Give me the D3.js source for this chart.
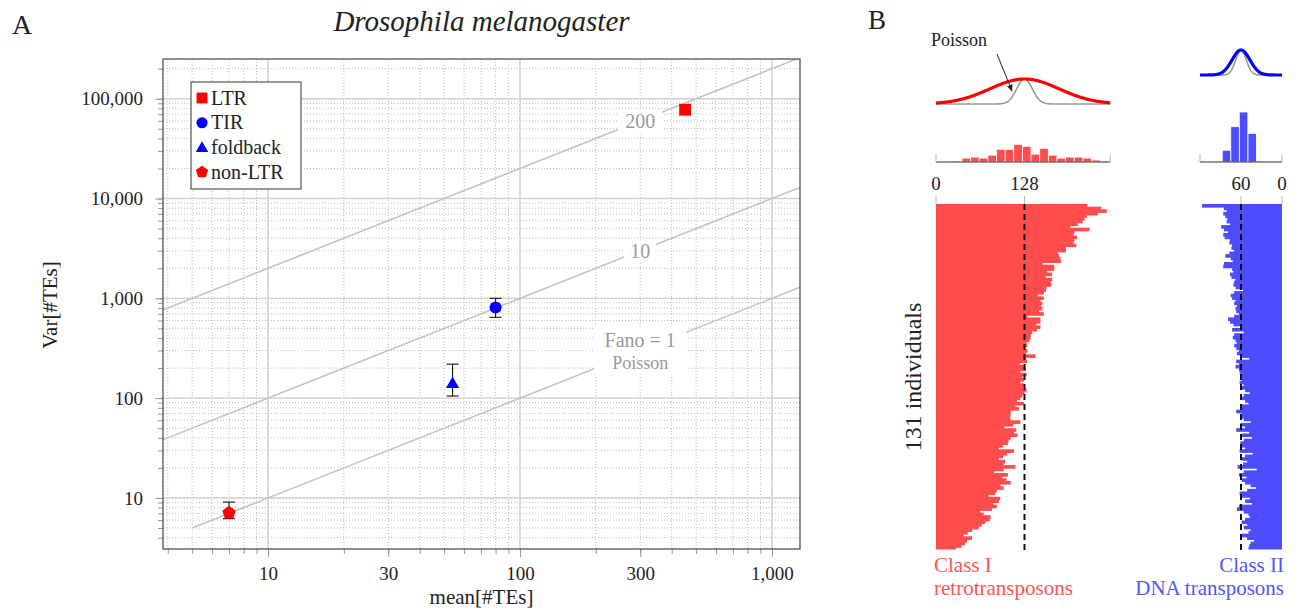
<!DOCTYPE html>
<html>
<head>
<meta charset="utf-8">
<script src="https://cdnjs.cloudflare.com/ajax/libs/d3/7.8.5/d3.min.js"></script>
<style>
  body { margin: 0; background: #fff; }
  svg text { font-family: "Liberation Serif", "DejaVu Serif", serif; }
  .grid-minor { stroke: #aaa; stroke-width: 0.8; stroke-dasharray: 1,2; }
  .grid-major { stroke: #d2d2d2; stroke-width: 1.4; }
</style>
</head>
<body>
<script>
// ---------- panel A data ----------
var teClasses = ["LTR", "TIR", "foldback", "non-LTR"];
var teMeans = [452, 80, 54, 7.0];
var teVars = [77600, 810, 138, 7.1];
var teVarLow = [null, 645, 105, 6.2];
var teVarHigh = [null, 1000, 219, 9.1];
var fanoLevels = [1, 10, 200];
var fanoStartMean = [5, 3, 3];
var xTickValues = [10, 30, 100, 300, 1000];
var yTickValues = [10, 100, 1000, 10000, 100000];

// ---------- panel B data ----------
var classIMean = 128;
var classIIMean = 60;
var classISd = 50;
var classIISd = 13;
var classICounts = [
  219, 239, 247, 234, 218, 215, 212, 205, 194, 222,
  200, 199, 204, 200, 199, 203, 188, 188, 176, 178,
  180, 181, 154, 171, 171, 161, 168, 159, 168, 166,
  167, 160, 159, 156, 147, 156, 151, 154, 152, 154,
  149, 156, 132, 151, 151, 145, 151, 146, 139, 137,
  137, 135, 131, 132, 127, 132, 130, 144, 130, 132,
  121, 127, 130, 122, 131, 125, 127, 122, 127, 126,
  131, 128, 125, 122, 117, 127, 115, 120, 108, 108,
  107, 108, 122, 112, 99, 116, 113, 118, 108, 105,
  104, 97, 91, 113, 103, 97, 91, 100, 98, 115,
  98, 84, 104, 96, 102, 108, 93, 98, 88, 86,
  76, 93, 91, 83, 88, 81, 64, 69, 79, 78,
  71, 66, 62, 52, 46, 40, 52, 45, 42, 37,
  29
];
var classIICounts = [
  117, 85, 81, 86, 83, 80, 81, 76, 89, 85,
  79, 86, 84, 76, 77, 73, 74, 70, 77, 83,
  75, 72, 85, 86, 73, 71, 76, 74, 68, 70,
  71, 68, 57, 70, 75, 73, 68, 70, 66, 68,
  67, 63, 70, 79, 76, 71, 61, 73, 56, 70,
  72, 68, 66, 70, 67, 63, 66, 61, 48, 67,
  63, 68, 63, 62, 59, 61, 59, 62, 56, 59,
  54, 47, 56, 59, 54, 49, 59, 61, 67, 59,
  61, 56, 46, 61, 54, 67, 48, 59, 44, 56,
  61, 59, 54, 62, 43, 54, 59, 51, 57, 65,
  37, 56, 63, 52, 59, 54, 46, 38, 51, 62,
  59, 47, 54, 44, 63, 66, 56, 49, 47, 54,
  59, 51, 56, 46, 49, 59, 51, 41, 46, 48,
  49
];
var histBinStart = 25;
var histBinWidth = 12.5;
var classIHist = [1, 4, 5, 4, 7, 13, 13, 18, 16, 8, 14, 7, 4, 5, 5, 4, 2, 1];
var classIIHist = [1, 29, 51, 36, 12, 1, 0, 1];

var red = "#ff0000", blue = "#0000ff";
var barRed = "#ff4d4d", barBlue = "#4d4dff";
var ink = "#222", lineGray = "#999";

var svg = d3.select("body")
  .append("svg")
  .attr("width", 1300)
  .attr("height", 611);

var defs = svg.append("defs");

// small helper so text colours are not lost
function addText(parent, str, size, color) {
  return parent.append("text").text(str)
    .style("font-size", size + "px")
    .style("fill", color || ink);
}

// =====================  PANEL A  =====================
var margin = { top: 59, left: 163 };
var width = 637;
var height = 490;

var chartGroup = svg.append("g")
  .attr("transform", `translate(${margin.left}, ${margin.top})`);

var x = d3.scaleLog().domain([3.83, 1292]).range([0, width]);
var y = d3.scaleLog().domain([3.08, 250000]).range([height, 0]);

function isDecade(v) {
  var l = Math.log10(v);
  return Math.abs(l - Math.round(l)) < 1e-9;
}

defs.append("clipPath").attr("id", "clipA")
  .append("rect").attr("width", width).attr("height", height);

// grid lines
var grid = chartGroup.append("g");
grid.selectAll(".gx").data(x.ticks()).enter().append("line")
  .attr("class", "grid-minor")
  .attr("x1", d => x(d)).attr("x2", d => x(d))
  .attr("y1", 0).attr("y2", height);
grid.selectAll(".gy").data(y.ticks()).enter().append("line")
  .attr("class", "grid-minor")
  .attr("y1", d => y(d)).attr("y2", d => y(d))
  .attr("x1", 0).attr("x2", width);
grid.selectAll(".gxm").data(x.ticks().filter(isDecade)).enter().append("line")
  .attr("class", "grid-major")
  .attr("x1", d => x(d)).attr("x2", d => x(d))
  .attr("y1", 0).attr("y2", height);
grid.selectAll(".gym").data(y.ticks().filter(isDecade)).enter().append("line")
  .attr("class", "grid-major")
  .attr("y1", d => y(d)).attr("y2", d => y(d))
  .attr("x1", 0).attr("x2", width);

// axes (minor ticks, then labelled ticks)
function styleAxis(g) {
  g.select(".domain").remove();
  g.selectAll("line").attr("stroke", lineGray);
  g.selectAll("text").style("font-size", "19px").style("fill", ink);
}
chartGroup.append("g")
  .attr("transform", `translate(0, ${height})`)
  .call(d3.axisBottom(x).tickValues(x.ticks()).tickSize(5).tickFormat(""))
  .call(styleAxis);
chartGroup.append("g")
  .attr("transform", `translate(0, ${height})`)
  .call(d3.axisBottom(x).tickValues(xTickValues).tickSize(8).tickPadding(10).tickFormat(d3.format(",")))
  .call(styleAxis);
chartGroup.append("g")
  .call(d3.axisLeft(y).tickValues(y.ticks()).tickSize(5).tickFormat(""))
  .call(styleAxis);
chartGroup.append("g")
  .call(d3.axisLeft(y).tickValues(yTickValues).tickSize(8).tickPadding(12).tickFormat(d3.format(",")))
  .call(styleAxis);

// Fano factor lines
var fanoLine = d3.line().x(d => x(d[0])).y(d => y(d[1]));
chartGroup.append("g")
  .attr("clip-path", "url(#clipA)")
  .selectAll("path")
  .data(fanoLevels)
  .enter()
  .append("path")
  .attr("d", (f, i) => fanoLine([[fanoStartMean[i], f * fanoStartMean[i]], [1292, f * 1292]]))
  .attr("fill", "none")
  .attr("stroke", "#c4c4c4")
  .attr("stroke-width", 1.6);

// labels on the lines (white boxes hide the line behind)
var labelMean = 300;
var labelGray = "#9a9a9a";
var lab200 = chartGroup.append("g")
  .attr("transform", `translate(${x(labelMean)}, ${y(200 * labelMean)})`);
lab200.append("rect").attr("x", -22).attr("y", -11).attr("width", 44).attr("height", 22).attr("fill", "#fff");
addText(lab200, "200", 20, labelGray).attr("text-anchor", "middle").attr("dy", "0.35em");

var lab10 = chartGroup.append("g")
  .attr("transform", `translate(${x(labelMean)}, ${y(10 * labelMean)})`);
lab10.append("rect").attr("x", -16).attr("y", -11).attr("width", 32).attr("height", 22).attr("fill", "#fff");
addText(lab10, "10", 20, labelGray).attr("text-anchor", "middle").attr("dy", "0.35em");

var lab1 = chartGroup.append("g")
  .attr("transform", `translate(${x(labelMean)}, ${y(1 * labelMean)})`);
lab1.append("rect").attr("x", -46).attr("y", -24).attr("width", 92).attr("height", 48).attr("fill", "#fff");
addText(lab1, "Fano = 1", 20, labelGray).attr("text-anchor", "middle").attr("y", -4);
addText(lab1, "Poisson", 18, labelGray).attr("text-anchor", "middle").attr("y", 18);

// markers
function pentagon(r) {
  var pts = d3.range(5).map(k => {
    var a = -Math.PI / 2 + k * 2 * Math.PI / 5;
    return [r * Math.cos(a), r * Math.sin(a)];
  });
  return "M" + pts.join("L") + "Z";
}
var markerPath = {
  "LTR": d3.symbol().type(d3.symbolSquare).size(140)(),
  "TIR": d3.symbol().type(d3.symbolCircle).size(115)(),
  "foldback": d3.symbol().type(d3.symbolTriangle).size(75)(),
  "non-LTR": pentagon(7)
};
var markerColor = { "LTR": red, "TIR": blue, "foldback": blue, "non-LTR": red };

var pointsGroup = chartGroup.append("g");
teClasses.forEach(function(c, i) {
  if (teVarLow[i] !== null) {
    var px = x(teMeans[i]);
    pointsGroup.append("line")
      .attr("x1", px).attr("x2", px)
      .attr("y1", y(teVarLow[i])).attr("y2", y(teVarHigh[i]))
      .attr("stroke", "#111").attr("stroke-width", 1.1);
    [teVarLow[i], teVarHigh[i]].forEach(function(v) {
      pointsGroup.append("line")
        .attr("x1", px - 6).attr("x2", px + 6)
        .attr("y1", y(v)).attr("y2", y(v))
        .attr("stroke", "#111").attr("stroke-width", 1.1);
    });
  }
  pointsGroup.append("path")
    .attr("d", markerPath[c])
    .attr("transform", `translate(${x(teMeans[i])}, ${y(teVars[i])})`)
    .attr("fill", markerColor[c]);
});

// frame
chartGroup.append("rect")
  .attr("width", width).attr("height", height)
  .attr("fill", "none").attr("stroke", "#444").attr("stroke-width", 1.2);

// legend
var legend = chartGroup.append("g").attr("transform", "translate(28, 23)");
legend.append("rect").attr("width", 110).attr("height", 107)
  .attr("fill", "#fff").attr("stroke", "#333").attr("stroke-width", 1);
teClasses.forEach(function(c, i) {
  var row = legend.append("g").attr("transform", `translate(11, ${16 + i * 24.7})`);
  row.append("path").attr("d", markerPath[c]).attr("fill", markerColor[c])
    .attr("transform", c === "foldback" ? "translate(0,1) scale(0.95)" : "scale(0.92)");
  addText(row, c, 20).attr("x", 9).attr("y", 6.5);
});

// titles and axis labels
addText(svg, "A", 28).attr("x", 12).attr("y", 34);
addText(svg, "Drosophila melanogaster", 29)
  .attr("x", margin.left + width / 2).attr("y", 31)
  .attr("text-anchor", "middle").style("font-style", "italic");
addText(svg, "mean[#TEs]", 21)
  .attr("x", margin.left + width / 2).attr("y", 604).attr("text-anchor", "middle");
addText(svg, "Var[#TEs]", 21)
  .attr("transform", "translate(57, 305) rotate(-90)").attr("text-anchor", "middle");

// =====================  PANEL B  =====================
addText(svg, "B", 27).attr("x", 868).attr("y", 29);

var xI = d3.scaleLinear().domain([0, classIMean]).range([936, 1024.5]);
var xII = d3.scaleLinear().domain([0, classIIMean]).range([1282, 1241]);
var yBar = d3.scaleBand().domain(d3.range(classICounts.length)).range([204, 549.5]).padding(0);
var hY = d3.scaleLinear().domain([0, 51]).range([162, 112]);

var classIMax = 252, classIIMax = 120;

// fitted curves vs Poisson (peak normalised)
function bell(mu, sd) {
  return v => Math.exp(-0.5 * Math.pow((v - mu) / sd, 2));
}
function drawCurves(xs, maxV, mu, sd, base, color) {
  var vs = d3.range(0, maxV + 0.5, 0.5);
  var line = d3.line().x(v => xs(v));
  var pois = bell(mu, Math.sqrt(mu));
  var fit = bell(mu, sd);
  svg.append("path").attr("d", line.y(v => base - 25 * pois(v))(vs))
    .attr("fill", "none").attr("stroke", "#999").attr("stroke-width", 1.6);
  svg.append("path").attr("d", line.y(v => base - 25 * fit(v))(vs))
    .attr("fill", "none").attr("stroke", color).attr("stroke-width", 3.2);
}
drawCurves(xI, classIMax, classIMean, classISd, 104, red);
drawCurves(xII, classIIMax, classIIMean, classIISd, 75, blue);

// Poisson label with arrow
defs.append("marker").attr("id", "arrow")
  .attr("viewBox", "0 0 10 10").attr("refX", 9).attr("refY", 5)
  .attr("markerWidth", 7).attr("markerHeight", 7).attr("orient", "auto")
  .append("path").attr("d", "M0,1 L10,5 L0,9 Z").attr("fill", ink);
addText(svg, "Poisson", 18).attr("x", 959).attr("y", 46).attr("text-anchor", "middle");
svg.append("line").attr("x1", 997).attr("y1", 54).attr("x2", 1012).attr("y2", 91)
  .attr("stroke", ink).attr("stroke-width", 1).attr("marker-end", "url(#arrow)");

// histograms
function drawHist(xs, counts, maxV, color) {
  var g = svg.append("g");
  g.selectAll("rect").data(counts).enter().append("rect")
    .attr("x", (d, i) => Math.min(xs(histBinStart + i * histBinWidth), xs(histBinStart + (i + 1) * histBinWidth)))
    .attr("width", (d, i) => Math.abs(xs(histBinStart + (i + 1) * histBinWidth) - xs(histBinStart + i * histBinWidth)))
    .attr("y", d => hY(d))
    .attr("height", d => hY(0) - hY(d))
    .attr("fill", color).attr("stroke", "#fff").attr("stroke-width", 0.8);
  g.append("line").attr("x1", xs(0)).attr("x2", xs(maxV)).attr("y1", hY(0)).attr("y2", hY(0))
    .attr("stroke", "#333").attr("stroke-width", 1.2);
  [0, maxV].forEach(function(v) {
    g.append("line").attr("x1", xs(v)).attr("x2", xs(v)).attr("y1", hY(0) - 8).attr("y2", hY(0))
      .attr("stroke", "#bbb").attr("stroke-width", 1);
  });
}
drawHist(xI, classIHist, classIMax, barRed);
drawHist(xII, classIIHist, classIIMax, barBlue);

// value axes above the bars
function drawTopAxis(xs, vals) {
  vals.forEach(function(v) {
    svg.append("line").attr("x1", xs(v)).attr("x2", xs(v)).attr("y1", 196).attr("y2", 204)
      .attr("stroke", "#bbb").attr("stroke-width", 1);
    addText(svg, v, 19).attr("x", xs(v)).attr("y", 190).attr("text-anchor", "middle");
  });
}
drawTopAxis(xI, [0, classIMean]);
drawTopAxis(xII, [classIIMean, 0]);

// per-individual bars (slight overlap so no seams show between rows)
var lastRow = classICounts.length - 1;
svg.append("g").selectAll("rect").data(classICounts).enter().append("rect")
  .attr("x", xI(0))
  .attr("y", (d, i) => yBar(i))
  .attr("width", d => xI(d) - xI(0))
  .attr("height", (d, i) => yBar.bandwidth() + (i < lastRow ? 1 : 0))
  .attr("fill", barRed);
svg.append("g").selectAll("rect").data(classIICounts).enter().append("rect")
  .attr("x", d => xII(d))
  .attr("y", (d, i) => yBar(i))
  .attr("width", d => xII(0) - xII(d))
  .attr("height", (d, i) => yBar.bandwidth() + (i < lastRow ? 1 : 0))
  .attr("fill", barBlue);

// mean lines
[xI(classIMean), xII(classIIMean)].forEach(function(px) {
  svg.append("line").attr("x1", px).attr("x2", px).attr("y1", 204).attr("y2", 550)
    .attr("stroke", "#111").attr("stroke-width", 2).attr("stroke-dasharray", "6,4");
});

addText(svg, "131 individuals", 24)
  .attr("transform", "translate(921, 377) rotate(-90)").attr("text-anchor", "middle");

addText(svg, "Class I", 21, "#ff5555").attr("x", 934).attr("y", 572);
addText(svg, "retrotransposons", 21, "#ff5555").attr("x", 934).attr("y", 595);
addText(svg, "Class II", 21, "#5555ff").attr("x", 1284).attr("y", 572).attr("text-anchor", "end");
addText(svg, "DNA transposons", 21, "#5555ff").attr("x", 1284).attr("y", 595).attr("text-anchor", "end");
</script>
</body>
</html>
